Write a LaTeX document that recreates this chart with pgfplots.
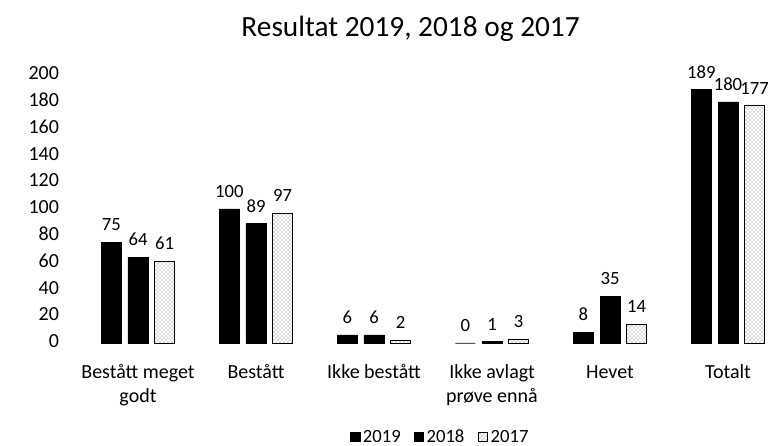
\documentclass[border=0pt]{standalone}
\usepackage{fontspec}
\setmainfont{Carlito}
\usepackage{pgfplots}
\pgfplotsset{compat=1.18}
\usetikzlibrary{patterns}
\begin{document}
\begin{tikzpicture}
\begin{axis}[
  name=ax,
  x=88.5pt, y=1.005pt,
  xmin=-0.5, xmax=5.5, ymin=0, ymax=200,
  axis line style={draw=none},
  major tick style={draw=none},
  ytick={0,20,...,200},
  xtick={0,1,2,3,4,5},
  xticklabels={Bestått meget\\godt, Bestått, Ikke bestått, Ikke avlagt\\prøve ennå, Hevet, Totalt},
  typeset ticklabels with strut,
  /pgf/number format/assume math mode=true,
  tick label style={font=\fontsize{15}{18}\selectfont},
  xticklabel style={align=center, yshift=-6pt},
  yticklabel style={xshift=-11.5pt},
  ybar=5pt, bar width=15pt,
  nodes near coords,
  nodes near coords style={font=\fontsize{14}{17}\selectfont, yshift=5pt},
  clip=false,
  legend style={at={(0.511,-0.351)}, anchor=center, legend columns=3, draw=none,
    font=\fontsize{14}{17}\selectfont,
    /tikz/every even column/.append style={column sep=8pt}},
  legend image code/.code={\draw[#1] (0pt,-3.5pt) rectangle (7pt,3.5pt);},
]
\addplot[fill=black, draw=black] coordinates {(0,75) (1,100) (2,6) (3,0) (4,8) (5,189)};
\addplot[fill=black, draw=black] coordinates {(0,64) (1,89) (2,6) (3,1) (4,35) (5,180)};
\addplot[draw=black, line width=0.7pt, pattern=crosshatch dots, pattern color=black!60] coordinates {(0,61) (1,97) (2,2) (3,3) (4,14) (5,177)};
\legend{2019, 2018, 2017}
\node[font=\fontsize{22}{26}\selectfont, anchor=base] at (axis cs:2.31,229) {Resultat 2019, 2018 og 2017};
\end{axis}
\pgfresetboundingbox
\path[use as bounding box] (ax.south west) ++(-59.25pt,-77.25pt) rectangle ++(576pt,334.5pt);
\end{tikzpicture}
\end{document}
